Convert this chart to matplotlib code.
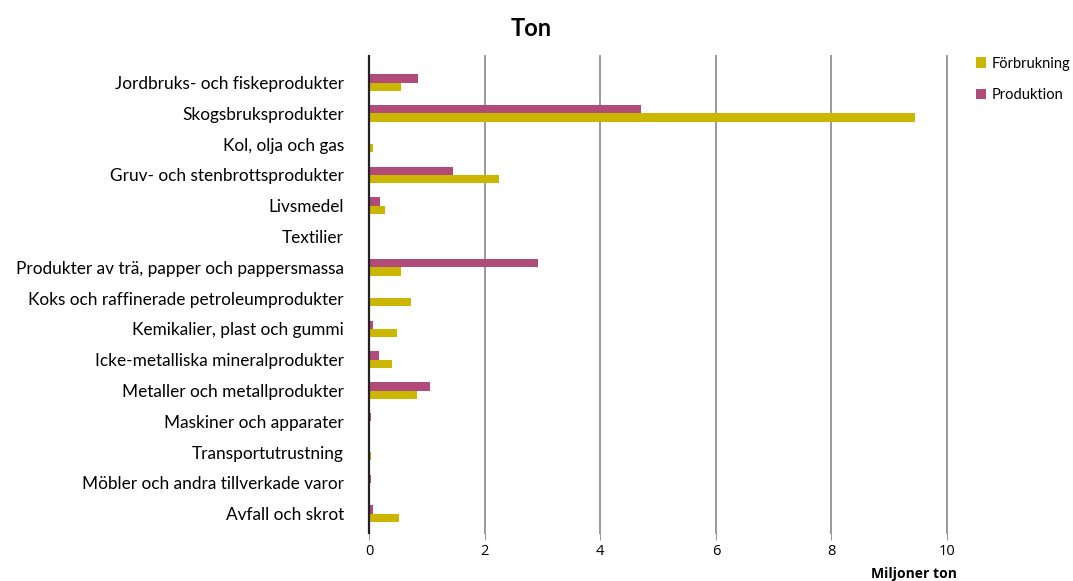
import matplotlib.pyplot as plt
import numpy as np

# Varugrupper och värden (miljoner ton)
kategorier = [
    "Jordbruks- och fiskeprodukter",
    "Skogsbruksprodukter",
    "Kol, olja och gas",
    "Gruv- och stenbrottsprodukter",
    "Livsmedel",
    "Textilier",
    "Produkter av trä, papper och pappersmassa",
    "Koks och raffinerade petroleumprodukter",
    "Kemikalier, plast och gummi",
    "Icke-metalliska mineralprodukter",
    "Metaller och metallprodukter",
    "Maskiner och apparater",
    "Transportutrustning",
    "Möbler och andra tillverkade varor",
    "Avfall och skrot",
]
produktion = [0.85, 4.70, 0.0, 1.45, 0.19, 0.0, 2.92, 0.0, 0.07, 0.17, 1.05, 0.04, 0.01, 0.04, 0.07]
forbrukning = [0.55, 9.45, 0.07, 2.25, 0.28, 0.0, 0.55, 0.73, 0.48, 0.40, 0.83, 0.01, 0.03, 0.01, 0.52]
xticks = [0, 2, 4, 6, 8, 10]

gul = "#CBB700"
lila = "#B04B7A"

plt.rcParams["font.family"] = ["Lato", "DejaVu Sans"]

fig = plt.figure(figsize=(10.73, 5.81), dpi=100)
ax = fig.add_axes([0.344, 0.083, 0.5386, 0.821])

y = np.arange(len(kategorier))
h = 0.27
ax.barh(y - h / 2, produktion, height=h, color=lila, label="Produktion", zorder=3)
ax.barh(y + h / 2, forbrukning, height=h, color=gul, label="Förbrukning", zorder=3)

ax.set_xlim(0, 10)
ax.set_ylim(14.62, -0.87)
ax.set_yticks(y)
ax.set_yticklabels(kategorier, fontsize=12.4)
ax.tick_params(axis="y", length=0, pad=18)
ax.set_xticks(xticks)
ax.set_xticklabels([str(v) for v in xticks], fontsize=10.5, family=["Open Sans", "DejaVu Sans"])
ax.tick_params(axis="x", length=5, color="#999999", pad=3)

ax.grid(axis="x", color="#999999", linewidth=1.4, zorder=0)
# sista stödlinjen (10) ligger på axelkanten, så den ska inte klippas
for line in ax.get_xgridlines():
    line.set_clip_on(False)
for s in ["top", "right", "bottom"]:
    ax.spines[s].set_visible(False)
ax.spines["left"].set_linewidth(1.6)
ax.spines["left"].set_color("#222222")
ax.spines["left"].set_zorder(4)

ax.set_title("Ton", fontsize=17, fontweight="bold", pad=14, x=0.28)
fig.text(0.892, 0.0, "Miljoner ton", fontsize=10, fontweight="bold", ha="right", va="bottom",
         family=["Open Sans", "DejaVu Sans"])

handles, labels = ax.get_legend_handles_labels()
fig.legend(handles[::-1], labels[::-1], loc="upper left", bbox_to_anchor=(0.897, 0.925),
           frameon=False, fontsize=10.5, handlelength=0.7, handleheight=0.7,
           handletextpad=0.4, labelspacing=1.2)

fig.savefig("out.png", dpi=100)
